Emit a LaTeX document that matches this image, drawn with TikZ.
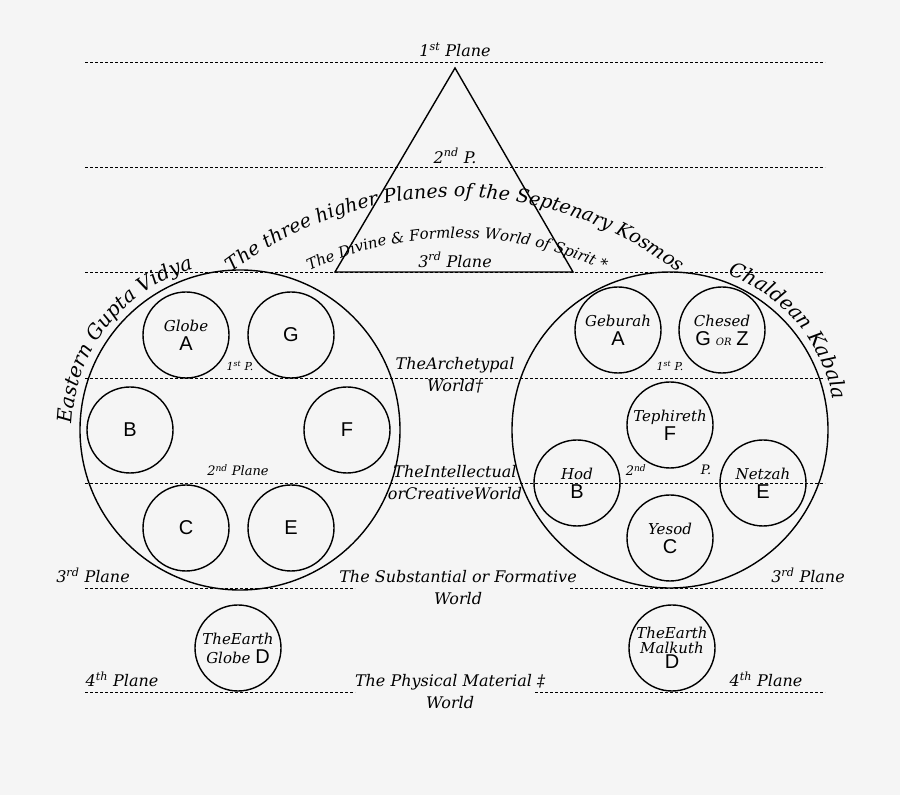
\documentclass[tikz,border=0pt]{standalone}
\usepackage{fontspec}
\setmainfont{DejaVu Serif}
\setsansfont{Liberation Sans}
\usetikzlibrary{decorations.text}
\definecolor{bg}{HTML}{F5F5F5}
\begin{document}
\begin{tikzpicture}[x=1pt,y=1pt,
  plane/.style={line width=0.9pt,dash pattern=on 3pt off 2pt},
  circ/.style={circle,draw,line width=1.4pt,minimum size=86pt,inner sep=0pt,align=center,font=\fontsize{15}{18}\selectfont\itshape},
  lab/.style={font=\fontsize{16}{22}\selectfont\itshape,align=center,inner sep=0pt},
  sm/.style={font=\fontsize{11}{13}\selectfont\itshape,inner sep=0pt}]
\fill[bg] (0,0) rectangle (900,795);
\useasboundingbox (0,0) rectangle (900,795);
% planes
\coordinate (p1a) at (85,733); \coordinate (p1b) at (825,733);
\coordinate (p2a) at (85,628); \coordinate (p2b) at (825,628);
\coordinate (p3a) at (85,523); \coordinate (p3b) at (825,523);
\coordinate (p4a) at (85,417); \coordinate (p4b) at (825,417);
\coordinate (p5a) at (85,312); \coordinate (p5b) at (825,312);
\coordinate (p6a) at (85,207); \coordinate (p6b) at (355,207);
\coordinate (p6c) at (570,207); \coordinate (p6d) at (825,207);
\coordinate (p7a) at (85,103); \coordinate (p7b) at (355,103);
\coordinate (p7c) at (535,103); \coordinate (p7d) at (825,103);
\foreach \a/\b in {p1a/p1b,p2a/p2b,p3a/p3b,p4a/p4b,p5a/p5b,p6a/p6b,p6c/p6d,p7a/p7b,p7c/p7d}
  \draw[plane] (\a) -- (\b);
% triangle
\coordinate (t1) at (455,727); \coordinate (t2) at (335,523); \coordinate (t3) at (573,523);
\draw[line width=1.4pt] (t1) -- (t2) -- (t3) -- cycle;
% big circles
\node[circle,draw,line width=1.4pt,minimum size=320pt,inner sep=0pt] (LC) at (240,365) {};
\node[circle,draw,line width=1.4pt,minimum size=316pt,inner sep=0pt] (RC) at (670,365) {};
% left small
\node[circ] (lA) at (186,460) {Globe\\[1pt]\fontsize{20}{22}\selectfont\sffamily\upshape A};
\node[circ] (lG) at (291,460) {\fontsize{20}{22}\selectfont\sffamily\upshape G};
\node[circ] (lB) at (130,365) {\fontsize{20}{22}\selectfont\sffamily\upshape B};
\node[circ] (lF) at (347,365) {\fontsize{20}{22}\selectfont\sffamily\upshape F};
\node[circ] (lC) at (186,267) {\fontsize{20}{22}\selectfont\sffamily\upshape C};
\node[circ] (lE) at (291,267) {\fontsize{20}{22}\selectfont\sffamily\upshape E};
\node[circ] (lD) at (238,147) {TheEarth\\[1pt]Globe {\fontsize{20}{22}\selectfont\sffamily\upshape D}};
% right small
\node[circ] (rA) at (618,465) {Geburah\\[1pt]\fontsize{20}{22}\selectfont\sffamily\upshape A};
\node[circ] (rG) at (722,465) {Chesed\\[1pt]{\fontsize{20}{22}\selectfont\sffamily\upshape G} {\fontsize{10}{12}\selectfont OR} {\fontsize{20}{22}\selectfont\sffamily\upshape Z}};
\node[circ] (rF) at (670,370) {Tephireth\\[1pt]\fontsize{20}{22}\selectfont\sffamily\upshape F};
\node[circ] (rB) at (577,312) {Hod\\[1pt]\fontsize{20}{22}\selectfont\sffamily\upshape B};
\node[circ] (rE) at (763,312) {Netzah\\[1pt]\fontsize{20}{22}\selectfont\sffamily\upshape E};
\node[circ] (rC) at (670,257) {Yesod\\[1pt]\fontsize{20}{22}\selectfont\sffamily\upshape C};
\node[circ] (rD) at (672,147) {TheEarth\\[-3pt]Malkuth\\[-3pt]\fontsize{20}{22}\selectfont\sffamily\upshape D};
% plane labels
\node[lab] (n1) at (455,745) {1\textsuperscript{st} Plane};
\node[lab] (n2) at (455,639) {2\textsuperscript{nd} P.};
\node[lab] (n3) at (455,535) {3\textsuperscript{rd} Plane};
\node[lab] (w1) at (455,420) {TheArchetypal\\World\textdagger};
\node[lab] (w2) at (455,312) {TheIntellectual\\orCreativeWorld};
\node[lab] (w3) at (458,207) {The Substantial or Formative\\World};
\node[lab] (w4) at (450,103) {The Physical Material \textdaggerdbl\\World};
\node[lab] (l3) at (93,220) {3\textsuperscript{rd} Plane};
\node[lab] (r3) at (808,220) {3\textsuperscript{rd} Plane};
\node[lab] (l4) at (122,116) {4\textsuperscript{th} Plane};
\node[lab] (r4) at (766,116) {4\textsuperscript{th} Plane};
\node[sm] (s1) at (240,429) {1\textsuperscript{st} P.};
\node[sm] (s2) at (670,429) {1\textsuperscript{st} P.};
\node[sm,font=\fontsize{13}{16}\selectfont\itshape] (s3) at (238,325) {2\textsuperscript{nd} Plane};
\node[sm,font=\fontsize{13}{16}\selectfont\itshape] (s4) at (636,325) {2\textsuperscript{nd}};
\node[sm,font=\fontsize{13}{16}\selectfont\itshape] (s5) at (706,325) {P.};
% curved texts
\path[decorate,decoration={text along path,text align=center,
  text={|\fontsize{19}{24}\selectfont\itshape|The three higher Planes of the Septenary Kosmos}}]
  (455,230) ++(128:368) arc (128:52:368);
\path[decorate,decoration={text along path,text align=center,
  text={|\fontsize{15}{20}\selectfont\itshape|The Divine {\&} Formless World of Spirit *}}]
  (457,211) ++(117:346) arc (117:63:346);
\path[decorate,decoration={text along path,text align=center,
  text={|\fontsize{20}{24}\selectfont\itshape|Eastern Gupta Vidya}}]
  (240,365) ++(180:168) arc (180:104:168);
\path[decorate,decoration={text along path,text align=center,
  text={|\fontsize{20}{24}\selectfont\itshape|Chaldean Kabala}}]
  (670,365) ++(73:166) arc (73:7:166);
\end{tikzpicture}
\end{document}
